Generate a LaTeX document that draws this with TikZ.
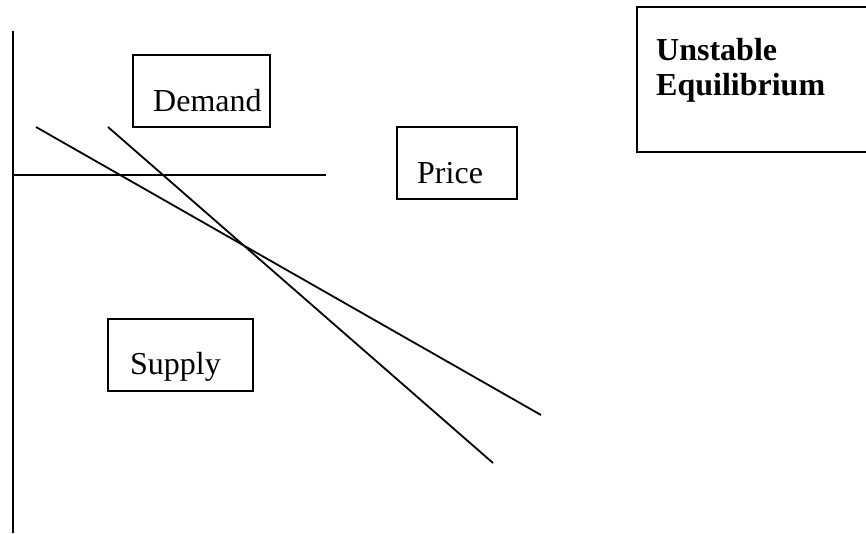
\documentclass[tikz,border=0pt]{standalone}
\usepackage{fontspec}
\setmainfont{Liberation Serif}
\begin{document}
\begin{tikzpicture}[x=1pt,y=-1pt,
  every node/.style={font=\fontsize{32}{35}\selectfont},
  framebox/.style={draw, line width=1.8pt, inner sep=0pt},
  caption/.style={anchor=base west, inner sep=0pt},
  curve/.style={line width=1.8pt},
  axis/.style={line width=2.2pt}]
\useasboundingbox (0,0) rectangle (866,533);

% vertical axis and the horizontal price level
\coordinate (axtop) at (13,31);
\coordinate (axbot) at (13,533);
\draw[axis] (axtop) -- (axbot);
\coordinate (pl) at (13,175);
\coordinate (pr) at (326,175);
\draw[curve] (pl) -- (pr);

% the two crossing curves
\coordinate (a1) at (36,127);
\coordinate (a2) at (541,415);
\coordinate (b1) at (108,127);
\coordinate (b2) at (493,463);
\draw[curve] (a1) -- (a2);
\draw[curve] (b1) -- (b2);

% labelled boxes
\node[framebox, minimum width=137pt, minimum height=72pt] (demandbox) at (201.5,91) {};
\node[caption] (demand) at (153,111) {Demand};

\node[framebox, minimum width=120pt, minimum height=72pt] (pricebox) at (457,163) {};
\node[caption] (price) at (417,183) {Price};

\node[framebox, minimum width=145pt, minimum height=72pt] (supplybox) at (180.5,355) {};
\node[caption] (supply) at (130,374) {Supply};

\node[framebox, minimum width=243pt, minimum height=145pt] (titlebox) at (758.5,79.5) {};
\node[anchor=north west, inner sep=0pt, align=left, font=\fontsize{32}{35}\selectfont\bfseries] (title) at (656,38) {Unstable\\Equilibrium};
\end{tikzpicture}
\end{document}
